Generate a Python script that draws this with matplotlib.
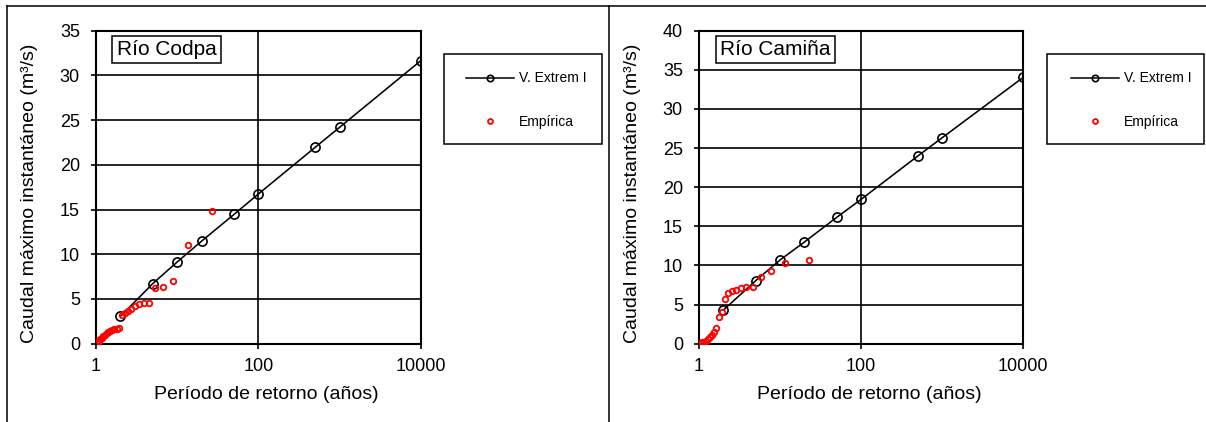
import matplotlib
matplotlib.use("Agg")
import matplotlib.pyplot as plt
from matplotlib.lines import Line2D
from matplotlib.patches import Rectangle

plt.rcParams['font.family'] = ['Liberation Sans', 'DejaVu Sans']

# Return periods (years) of the fitted Extreme Value Type I (Gumbel) curve
t_fit = [2, 5, 10, 20, 50, 100, 500, 1000, 10000]
q_fit_codpa = [3.05, 6.72, 9.14, 11.47, 14.45, 16.74, 21.95, 24.19, 31.64]
q_fit_camina = [4.30, 8.05, 10.70, 13.00, 16.15, 18.45, 23.99, 26.33, 34.04]

# Empirical return periods and observed annual peak flows
t_emp_codpa = [1.04, 1.08, 1.13, 1.17, 1.23, 1.29, 1.35, 1.42, 1.50, 1.59,
               1.69, 1.80, 1.93, 2.08, 2.25, 2.45, 2.70, 3.00, 3.38, 3.86,
               4.50, 5.40, 6.75, 9.00, 13.5, 27.0]
q_emp_codpa = [0.05, 0.34, 0.49, 0.67, 0.86, 1.00, 1.16, 1.31, 1.45, 1.53,
               1.60, 1.68, 1.72, 3.20, 3.40, 3.66, 3.92, 4.18, 4.42, 4.52,
               4.58, 6.22, 6.30, 7.05, 11.05, 14.80]

t_emp_camina = [1.05, 1.10, 1.15, 1.21, 1.28, 1.35, 1.44, 1.53, 1.64, 1.77,
                1.92, 2.09, 2.30, 2.56, 2.88, 3.29, 3.83, 4.60, 5.75, 7.67,
                11.5, 23.0]
q_emp_camina = [0.15, 0.20, 0.27, 0.40, 0.58, 0.83, 1.12, 1.47, 1.98, 3.45,
                4.09, 5.67, 6.44, 6.70, 6.90, 7.15, 7.20, 7.30, 8.55, 9.33,
                10.35, 10.73]

x_ticks = [1, 100, 10000]
x_tick_labels = ['1', '100', '10000']
series_labels = ['V. Extrem I', 'Empírica']
x_label = 'Período de retorno (años)'
y_label = 'Caudal máximo instantáneo (m³/s)'

W, H = 1206, 422
fig = plt.figure(figsize=(W / 100, H / 100), dpi=100)


def fx(x):
    return x / W


def fy(y):
    return 1 - y / H


# outer frames of the two chart panels
frame_kw = dict(transform=fig.transFigure, color='black', lw=1.1)
fig.add_artist(Line2D([fx(6.5), fx(W)], [fy(5.5), fy(5.5)], **frame_kw))
fig.add_artist(Line2D([fx(6.5), fx(6.5)], [fy(5.5), fy(H)], **frame_kw))
fig.add_artist(Line2D([fx(608.5), fx(608.5)], [fy(5.5), fy(H)], **frame_kw))

panels = [
    dict(name='Río Codpa', left=96, right=420.7, ymax=35,
         q_fit=q_fit_codpa, t_emp=t_emp_codpa, q_emp=q_emp_codpa,
         box_x=444, box_w=158, handle_x=466, title_x=0.217),
    dict(name='Río Camiña', left=699, right=1023.3, ymax=40,
         q_fit=q_fit_camina, t_emp=t_emp_camina, q_emp=q_emp_camina,
         box_x=1047, box_w=157, handle_x=1070.5, title_x=0.235),
]

top_px, bot_px = 30.7, 343.7

# legend keys (drawn smaller than the plotted markers)
legend_handles = [
    Line2D([], [], color='black', lw=1.1, marker='o', markersize=4.6,
           markerfacecolor='none', markeredgecolor='black',
           markeredgewidth=1.2),
    Line2D([], [], linestyle='none', marker='o', markersize=3.5,
           markerfacecolor='none', markeredgecolor='#ff0000',
           markeredgewidth=1.3),
]

for p in panels:
    ax = fig.add_axes([fx(p['left']), fy(bot_px),
                       (p['right'] - p['left']) / W, (bot_px - top_px) / H])
    ax.set_xscale('log')
    ax.set_xlim(1, 10000)
    ax.set_ylim(0, p['ymax'])
    ax.set_xticks(x_ticks)
    ax.set_xticklabels(x_tick_labels)
    ax.xaxis.set_minor_locator(matplotlib.ticker.NullLocator())
    ax.set_yticks(range(0, p['ymax'] + 1, 5))

    ax.grid(True, which='major', color='black', lw=1.2)
    ax.set_axisbelow(True)
    for s in ax.spines.values():
        s.set_color('black')
        s.set_linewidth(1.5)
    ax.tick_params(axis='both', direction='out', length=3.6, width=1.2,
                   labelsize=13, colors='black')
    ax.tick_params(axis='x', pad=7)
    ax.tick_params(axis='y', pad=8)

    ax.plot(t_fit, p['q_fit'], color='black', lw=1.15, marker='o',
            markersize=6.6, markerfacecolor='none', markeredgecolor='black',
            markeredgewidth=1.2, zorder=3)
    ax.plot(p['t_emp'], p['q_emp'], linestyle='none', marker='o',
            markersize=4.0, markerfacecolor='none', markeredgecolor='#ff0000',
            markeredgewidth=1.3, zorder=4)

    ax.set_xlabel(x_label, fontsize=14)
    ax.xaxis.set_label_coords(0.526, -0.135)
    ax.set_ylabel(y_label, fontsize=14)
    ax.yaxis.set_label_coords(-0.18, 0.48)

    ax.text(p['title_x'], 0.940, p['name'], transform=ax.transAxes,
            ha='center', va='center', fontsize=15, zorder=6,
            bbox=dict(boxstyle='square,pad=0.2', fc='white', ec='black',
                      lw=1.1))

    # legend box and its entries
    fig.add_artist(Rectangle((fx(p['box_x']), fy(144)), p['box_w'] / W,
                             90 / H, transform=fig.transFigure, fill=False,
                             ec='black', lw=1.1))
    ax.legend(legend_handles, series_labels, loc='upper left',
              bbox_to_anchor=(fx(p['handle_x']), fy(71.5)),
              bbox_transform=fig.transFigure, borderaxespad=0,
              borderpad=0, fontsize=10, frameon=False,
              labelspacing=2.1, handlelength=3.46, handletextpad=0.38)

fig.savefig('out.png', dpi=100, facecolor='white')
